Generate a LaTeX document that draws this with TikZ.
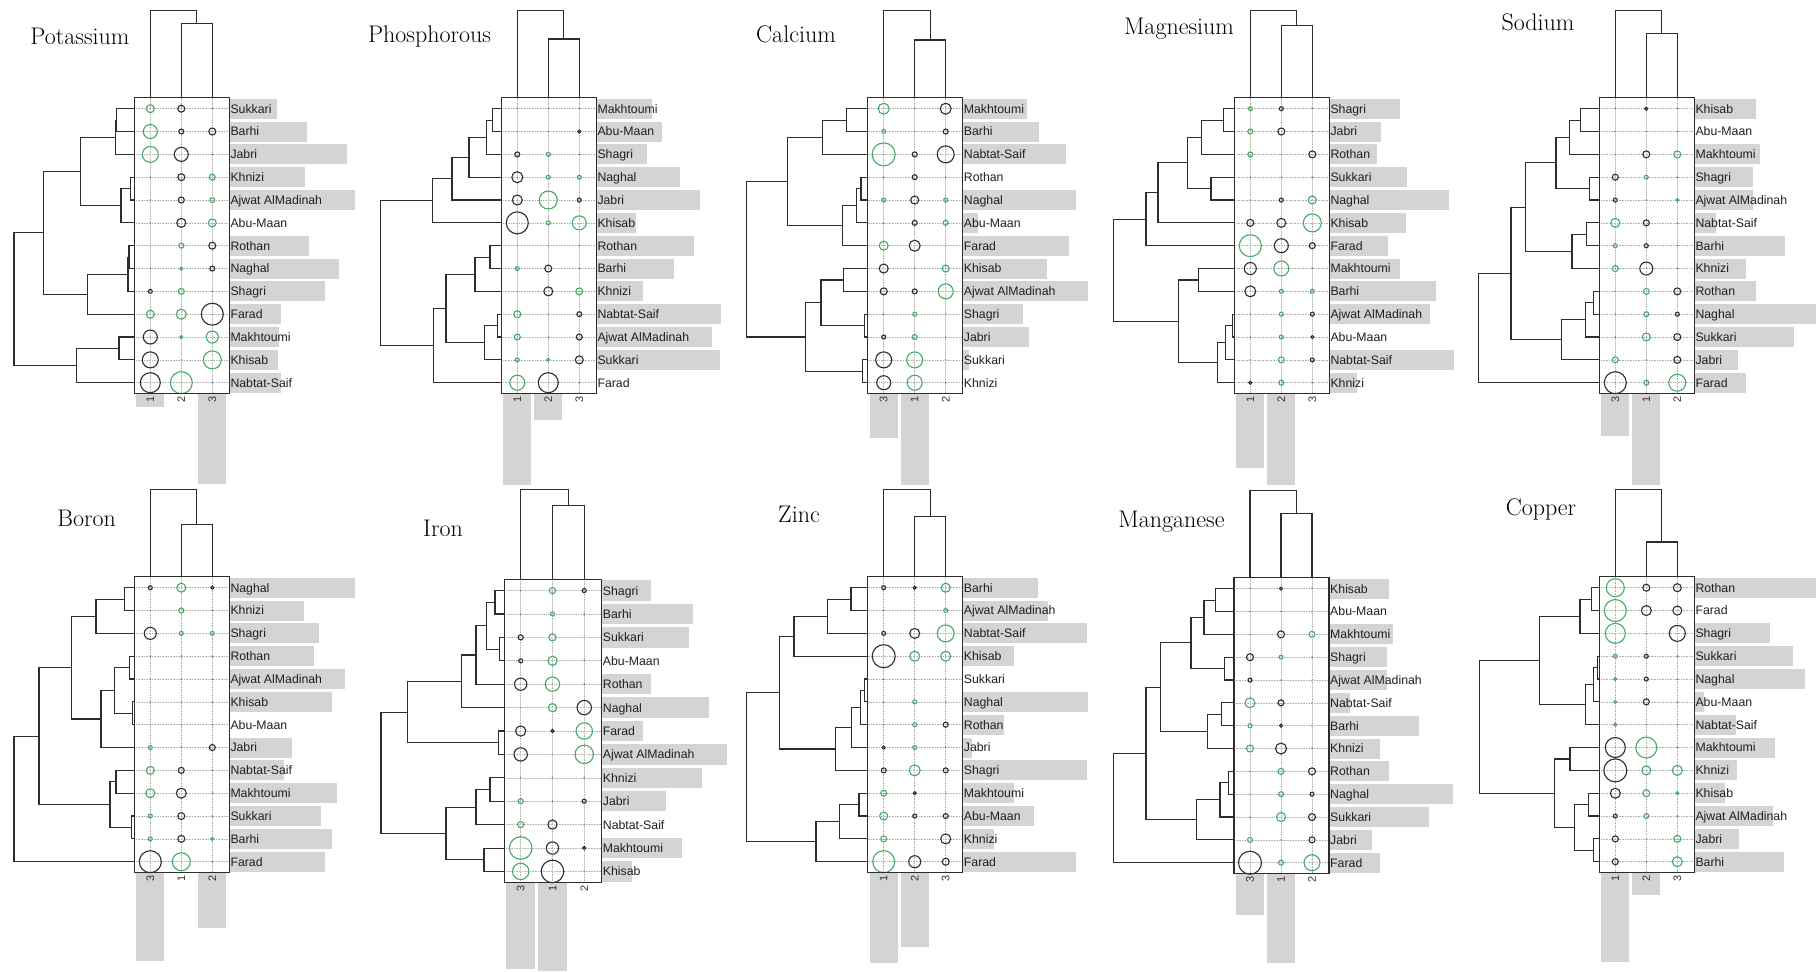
\documentclass[tikz,border=0pt]{standalone}
\usepackage{fontspec}
\newfontfamily\lab{Liberation Sans}
\usetikzlibrary{calc}
\definecolor{grn}{RGB}{70,170,100}
\definecolor{barg}{RGB}{212,212,212}
\definecolor{dk}{RGB}{45,45,45}
\tikzset{
 dend/.style={draw=dk, line width=1.1pt},
 frame/.style={draw=dk, line width=1.2pt},
 gridl/.style={draw=black!30, densely dotted, line width=0.6pt},
 gc/.style={draw=grn, line width=1.1pt},
 kc/.style={draw=dk, line width=1.1pt},
 dotc/.style={fill=black!55},
 rowbar/.style={fill=barg},
 rowlab/.style={font=\lab\fontsize{12.3}{14}\selectfont, text=black!88, inner sep=0.5pt, anchor=base west},
 collab/.style={font=\lab\fontsize{11}{13}\selectfont, text=black!80, rotate=90, anchor=east, inner sep=1pt},
 ttl/.style={font=\fontsize{24}{28}\selectfont, anchor=base, inner sep=0pt},
}
\newcommand{\PCell}[3]{%
  \ifdim #3pt<0pt \draw[kc] (#1,#2) circle[radius={-(#3)}];%
  \else\ifdim #3pt=0pt \fill[dotc] (#1,#2) circle[radius=0.8];%
  \else \draw[gc] (#1,#2) circle[radius=#3];\fi\fi}
\newcommand{\PRow}[7]{%
  \pgfmathsetmacro\ry{11+(#2-1)*22.833}%
  \ifdim #4pt>0pt \fill[rowbar] (95,\ry-10) rectangle (95+#4,\ry+10);\fi
  \draw[gridl] (0,\ry) -- (95,\ry);
  \PCell{16}{\ry}{#5}\PCell{47}{\ry}{#6}\PCell{78}{\ry}{#7}%
  \node[rowlab] (#1n#2) at (95.5,\ry+4.4) {#3};
  \coordinate (#1l#2) at (0,\ry);}
\newcommand{\HMerge}[4]{%
  \coordinate (dmx) at (#4,0);
  \draw[dend] (#2) -- (#2 -| dmx) -- (#3 -| dmx) -- (#3);
  \coordinate (#1) at ($(#2 -| dmx)!0.5!(#3 -| dmx)$);}
\newcommand{\VMerge}[4]{%
  \coordinate (dmy) at (0,#4);
  \draw[dend] (#2) -- (#2 |- dmy) -- (#3 |- dmy) -- (#3);
  \coordinate (#1) at ($(#2 |- dmy)!0.5!(#3 |- dmy)$);}
\newcommand{\PCols}[8]{%
  \ifdim #5pt>0pt \fill[rowbar] (2,296) rectangle (30,296+#5);\fi
  \ifdim #6pt>0pt \fill[rowbar] (33,296) rectangle (61,296+#6);\fi
  \ifdim #7pt>0pt \fill[rowbar] (64,296) rectangle (92,296+#7);\fi
  \foreach \cx in {16,47,78} {\draw[gridl] (\cx,0) -- (\cx,296);}
  \node[collab] (#1d1) at (16,297) {#2};
  \node[collab] (#1d2) at (47,297) {#3};
  \node[collab] (#1d3) at (78,297) {#4};
  \coordinate (#1t1) at (16,0); \coordinate (#1t2) at (47,0); \coordinate (#1t3) at (78,0);
  \VMerge{#1tA}{#1t2}{#1t3}{#8}
  \VMerge{#1tB}{#1t1}{#1tA}{-87.4}}
\begin{document}
\begin{tikzpicture}[x=1pt,y=-1pt]
\useasboundingbox[fill=white] (0,0) rectangle (1816,972);
% titles
\node[ttl] (T1) at (80,44.3) {Potassium};
\node[ttl] (T2) at (429.5,42.7) {Phosphorous};
\node[ttl] (T3) at (796,42.3) {Calcium};
\node[ttl] (T4) at (1179,34.3) {Magnesium};
\node[ttl] (T5) at (1538,30) {Sodium};
\node[ttl] (T6) at (86.7,526) {Boron};
\node[ttl] (T7) at (443,536.7) {Iron};
\node[ttl] (T8) at (799,522.7) {Zinc};
\node[ttl] (T9) at (1171.5,527.7) {Manganese};
\node[ttl] (T10) at (1541,515.3) {Copper};
% ---------- Potassium
\begin{scope}[shift={(134.3,97.7)}]
\PCols{P1}{1}{2}{3}{13.3}{0}{90.3}{-74.4}
\PRow{P1}{1}{Sukkari}{47.3}{4}{-3.5}{0}
\PRow{P1}{2}{Barhi}{77.3}{7}{-2.5}{-3.5}
\PRow{P1}{3}{Jabri}{118}{8}{-7}{0}
\PRow{P1}{4}{Khnizi}{75.7}{0}{-3.5}{3}
\PRow{P1}{5}{Ajwat AlMadinah}{125.3}{0}{-3}{2.5}
\PRow{P1}{6}{Abu-Maan}{0}{0}{-4.5}{4}
\PRow{P1}{7}{Rothan}{80}{0}{2.5}{-3.5}
\PRow{P1}{8}{Naghal}{109.3}{0}{1.5}{-2.5}
\PRow{P1}{9}{Shagri}{95.7}{-2}{3}{0}
\PRow{P1}{10}{Farad}{51.3}{4}{5}{-11}
\PRow{P1}{11}{Makhtoumi}{49.7}{-7}{1.5}{6}
\PRow{P1}{12}{Khisab}{49}{-8}{0}{9}
\PRow{P1}{13}{Nabtat-Saif}{51.3}{-10}{11}{0}
\draw[frame] (0,0) rectangle (95,296);
\HMerge{P1a}{P1l1}{P1l2}{-17.5}
\HMerge{P1b}{P1a}{P1l3}{-19}
\HMerge{P1c}{P1l4}{P1l5}{-3.7}
\HMerge{P1d}{P1c}{P1l6}{-13.3}
\HMerge{P1e}{P1b}{P1d}{-53.7}
\HMerge{P1f}{P1l7}{P1l8}{-5.3}
\HMerge{P1g}{P1f}{P1l9}{-6.3}
\HMerge{P1h}{P1g}{P1l10}{-47}
\HMerge{P1i}{P1e}{P1h}{-91}
\HMerge{P1j}{P1l11}{P1l12}{-15.3}
\HMerge{P1k}{P1j}{P1l13}{-57.7}
\HMerge{P1m}{P1i}{P1k}{-120.3}
\end{scope}
% ---------- Phosphorous
\begin{scope}[shift={(501.3,97.7)}]
\PCols{P2}{1}{2}{3}{91}{26}{0}{-58.7}
\PRow{P2}{1}{Makhtoumi}{55.7}{0}{0}{0}
\PRow{P2}{2}{Abu-Maan}{66}{0}{0}{-1.5}
\PRow{P2}{3}{Shagri}{50.3}{-2.5}{2}{0}
\PRow{P2}{4}{Naghal}{83.7}{-5.5}{2}{2}
\PRow{P2}{5}{Jabri}{103.7}{-5}{9}{-2}
\PRow{P2}{6}{Khisab}{39.7}{-11}{2}{7}
\PRow{P2}{7}{Rothan}{97.3}{0}{0}{0}
\PRow{P2}{8}{Barhi}{77.7}{2}{-3.5}{0}
\PRow{P2}{9}{Khnizi}{47}{0}{-4.5}{3.5}
\PRow{P2}{10}{Nabtat-Saif}{124.7}{3.5}{0}{-2.5}
\PRow{P2}{11}{Ajwat AlMadinah}{115.3}{3}{0}{-3}
\PRow{P2}{12}{Sukkari}{123.7}{2}{1.5}{-4}
\PRow{P2}{13}{Farad}{0}{7.5}{-10}{0}
\draw[frame] (0,0) rectangle (95,296);
\HMerge{P2a}{P2l1}{P2l2}{-8.7}
\HMerge{P2b}{P2a}{P2l3}{-14.7}
\HMerge{P2c}{P2b}{P2l4}{-32.3}
\HMerge{P2d}{P2c}{P2l5}{-49.3}
\HMerge{P2e}{P2d}{P2l6}{-69}
\HMerge{P2f}{P2l7}{P2l8}{-11.3}
\HMerge{P2g}{P2f}{P2l9}{-26.3}
\HMerge{P2h}{P2l10}{P2l11}{-3.7}
\HMerge{P2i}{P2h}{P2l12}{-17}
\HMerge{P2j}{P2g}{P2i}{-55.3}
\HMerge{P2k}{P2j}{P2l13}{-68}
\HMerge{P2m}{P2e}{P2k}{-120.7}
\end{scope}
% ---------- Calcium
\begin{scope}[shift={(867.7,97.7)}]
\PCols{P3}{3}{1}{2}{44.3}{91}{0}{-57.7}
\PRow{P3}{1}{Makhtoumi}{64.3}{5.5}{0}{-5.5}
\PRow{P3}{2}{Barhi}{76.7}{2}{0}{-2.5}
\PRow{P3}{3}{Nabtat-Saif}{103.3}{11.5}{-2.5}{-8.5}
\PRow{P3}{4}{Rothan}{0}{0}{-2.5}{0}
\PRow{P3}{5}{Naghal}{113.3}{2}{-4}{2}
\PRow{P3}{6}{Abu-Maan}{15}{0}{-2.5}{2.5}
\PRow{P3}{7}{Farad}{106.7}{4.5}{-5.5}{0}
\PRow{P3}{8}{Khisab}{84.3}{-4.5}{0}{3.5}
\PRow{P3}{9}{Ajwat AlMadinah}{125}{-3.5}{-2.5}{7.5}
\PRow{P3}{10}{Shagri}{60}{0}{2}{0}
\PRow{P3}{11}{Jabri}{66}{-2}{2.5}{0}
\PRow{P3}{12}{Sukkari}{6.7}{-8}{8}{0}
\PRow{P3}{13}{Khnizi}{0}{-7}{7.5}{0}
\draw[frame] (0,0) rectangle (95,296);
\HMerge{P3a}{P3l1}{P3l2}{-21}
\HMerge{P3b}{P3a}{P3l3}{-45.3}
\HMerge{P3c}{P3l4}{P3l5}{-6.7}
\HMerge{P3d}{P3c}{P3l6}{-11}
\HMerge{P3e}{P3d}{P3l7}{-25.3}
\HMerge{P3f}{P3b}{P3e}{-80}
\HMerge{P3g}{P3l8}{P3l9}{-24.3}
\HMerge{P3h}{P3l10}{P3l11}{-3.3}
\HMerge{P3i}{P3g}{P3h}{-46.7}
\HMerge{P3j}{P3l12}{P3l13}{-5.3}
\HMerge{P3k}{P3i}{P3j}{-62}
\HMerge{P3m}{P3f}{P3k}{-121}
\end{scope}
% ---------- Magnesium
\begin{scope}[shift={(1234.3,97.7)}]
\PCols{P4}{1}{2}{3}{74.3}{91}{0}{-72}
\PRow{P4}{1}{Shagri}{70.3}{2}{-2}{0}
\PRow{P4}{2}{Jabri}{51.3}{2.5}{-3.5}{0}
\PRow{P4}{3}{Rothan}{47.3}{2.5}{0}{-3.5}
\PRow{P4}{4}{Sukkari}{77.3}{0}{0}{0}
\PRow{P4}{5}{Naghal}{119.7}{0}{-2}{4}
\PRow{P4}{6}{Khisab}{76.3}{-3.5}{-4.5}{9}
\PRow{P4}{7}{Farad}{58.7}{11}{-7}{-3}
\PRow{P4}{8}{Makhtoumi}{70.3}{-6}{7.5}{0}
\PRow{P4}{9}{Barhi}{107}{-5.5}{2}{2}
\PRow{P4}{10}{Ajwat AlMadinah}{100.7}{0}{2}{-2}
\PRow{P4}{11}{Abu-Maan}{0}{0}{2}{-1.5}
\PRow{P4}{12}{Nabtat-Saif}{124.7}{0}{3}{-2}
\PRow{P4}{13}{Khnizi}{27.3}{-1.5}{2.5}{0}
\draw[frame] (0,0) rectangle (95,296);
\HMerge{P4a}{P4l1}{P4l2}{-11}
\HMerge{P4b}{P4a}{P4l3}{-32.7}
\HMerge{P4c}{P4l4}{P4l5}{-23.3}
\HMerge{P4d}{P4b}{P4c}{-46.7}
\HMerge{P4e}{P4d}{P4l6}{-76.3}
\HMerge{P4f}{P4e}{P4l7}{-88.3}
\HMerge{P4g}{P4l8}{P4l9}{-36}
\HMerge{P4h}{P4l10}{P4l11}{-1.7}
\HMerge{P4i}{P4h}{P4l12}{-8.7}
\HMerge{P4j}{P4i}{P4l13}{-17}
\HMerge{P4k}{P4g}{P4j}{-56}
\HMerge{P4m}{P4f}{P4k}{-121}
\end{scope}
% ---------- Sodium
\begin{scope}[shift={(1599.3,97.7)}]
\PCols{P5}{3}{1}{2}{42.7}{91}{0}{-64.4}
\PRow{P5}{1}{Khisab}{61.3}{0}{-1.5}{0}
\PRow{P5}{2}{Abu-Maan}{0}{0}{0}{0}
\PRow{P5}{3}{Makhtoumi}{65.7}{0}{-3.5}{3.5}
\PRow{P5}{4}{Shagri}{59}{-3}{2}{0}
\PRow{P5}{5}{Ajwat AlMadinah}{59}{-2}{0}{1.5}
\PRow{P5}{6}{Nabtat-Saif}{21.7}{4.5}{-3}{0}
\PRow{P5}{7}{Barhi}{90.7}{2}{-2}{0}
\PRow{P5}{8}{Khnizi}{51.7}{3}{-6.5}{0}
\PRow{P5}{9}{Rothan}{61.3}{0}{3}{-3.5}
\PRow{P5}{10}{Naghal}{122.3}{0}{2.5}{-2}
\PRow{P5}{11}{Sukkari}{100}{0}{4}{-3.5}
\PRow{P5}{12}{Jabri}{43.3}{3}{0}{-3.5}
\PRow{P5}{13}{Farad}{51.7}{-11}{2.5}{8.5}
\draw[frame] (0,0) rectangle (95,296);
\HMerge{P5a}{P5l1}{P5l2}{-19}
\HMerge{P5b}{P5a}{P5l3}{-30}
\HMerge{P5c}{P5l4}{P5l5}{-10}
\HMerge{P5d}{P5b}{P5c}{-43.3}
\HMerge{P5e}{P5l6}{P5l7}{-12.7}
\HMerge{P5f}{P5e}{P5l8}{-27.3}
\HMerge{P5g}{P5d}{P5f}{-74}
\HMerge{P5h}{P5l9}{P5l10}{-6}
\HMerge{P5i}{P5h}{P5l11}{-14}
\HMerge{P5j}{P5i}{P5l12}{-37.7}
\HMerge{P5k}{P5g}{P5j}{-88.3}
\HMerge{P5m}{P5k}{P5l13}{-120.7}
\end{scope}
% ---------- Boron
\begin{scope}[shift={(134.3,576.7)}]
\PCols{P6}{3}{1}{2}{88}{0}{55.3}{-52.4}
\PRow{P6}{1}{Naghal}{125.3}{-2}{4.5}{-1.5}
\PRow{P6}{2}{Khnizi}{74.7}{0}{2.5}{0}
\PRow{P6}{3}{Shagri}{89.7}{-6}{2}{2}
\PRow{P6}{4}{Rothan}{84.7}{0}{0}{0}
\PRow{P6}{5}{Ajwat AlMadinah}{115.7}{0}{0}{0}
\PRow{P6}{6}{Khisab}{103}{0}{0}{0}
\PRow{P6}{7}{Abu-Maan}{0}{0}{0}{0}
\PRow{P6}{8}{Jabri}{62.3}{2}{0}{-3}
\PRow{P6}{9}{Nabtat-Saif}{54.7}{4}{-3}{0}
\PRow{P6}{10}{Makhtoumi}{108}{4.5}{-5}{0}
\PRow{P6}{11}{Sukkari}{91.3}{2}{-3.5}{0}
\PRow{P6}{12}{Barhi}{103}{2}{-3.5}{1.5}
\PRow{P6}{13}{Farad}{95.7}{-11}{9}{0}
\draw[frame] (0,0) rectangle (95,296);
\HMerge{P6a}{P6l1}{P6l2}{-10}
\HMerge{P6b}{P6a}{P6l3}{-38.3}
\HMerge{P6c}{P6l4}{P6l5}{-5}
\HMerge{P6d}{P6l6}{P6l7}{-1.7}
\HMerge{P6e}{P6c}{P6d}{-20}
\HMerge{P6f}{P6e}{P6l8}{-33.3}
\HMerge{P6g}{P6b}{P6f}{-62.7}
\HMerge{P6h}{P6l9}{P6l10}{-18.3}
\HMerge{P6i}{P6l11}{P6l12}{-2.7}
\HMerge{P6j}{P6h}{P6i}{-24.3}
\HMerge{P6k}{P6g}{P6j}{-95.3}
\HMerge{P6m}{P6k}{P6l13}{-120.3}
\end{scope}
% ---------- Iron
\begin{scope}[shift={(504.3,579.3)}, scale=1.025]
\PCols{P7}{3}{1}{2}{84}{86}{0}{-72.2}
\PRow{P7}{1}{Shagri}{48.1}{0}{3}{-2}
\PRow{P7}{2}{Barhi}{88.8}{0}{2}{0}
\PRow{P7}{3}{Sukkari}{85.5}{-2.5}{3.5}{0}
\PRow{P7}{4}{Abu-Maan}{0}{-2}{4.5}{0}
\PRow{P7}{5}{Rothan}{48.1}{-6}{7}{0}
\PRow{P7}{6}{Naghal}{104.7}{0}{4}{-7}
\PRow{P7}{7}{Farad}{40.7}{-5}{-1.5}{8}
\PRow{P7}{8}{Ajwat AlMadinah}{122}{-6.5}{0}{9}
\PRow{P7}{9}{Khnizi}{97.6}{0}{0}{0}
\PRow{P7}{10}{Jabri}{62.8}{2.5}{0}{-2}
\PRow{P7}{11}{Nabtat-Saif}{0}{3}{-4.5}{0}
\PRow{P7}{12}{Makhtoumi}{78}{11}{-6}{-1.5}
\PRow{P7}{13}{Khisab}{29.3}{8}{-11}{0}
\draw[frame] (0,0) rectangle (95,296);
\HMerge{P7a}{P7l1}{P7l2}{-9.1}
\HMerge{P7b}{P7l3}{P7l4}{-4.9}
\HMerge{P7c}{P7a}{P7b}{-17.2}
\HMerge{P7d}{P7c}{P7l5}{-27.6}
\HMerge{P7e}{P7d}{P7l6}{-41.6}
\HMerge{P7f}{P7l7}{P7l8}{-5.9}
\HMerge{P7g}{P7e}{P7f}{-94.3}
\HMerge{P7h}{P7l9}{P7l10}{-14}
\HMerge{P7i}{P7h}{P7l11}{-27.6}
\HMerge{P7j}{P7l12}{P7l13}{-19.8}
\HMerge{P7k}{P7i}{P7j}{-56.9}
\HMerge{P7m}{P7g}{P7k}{-120.3}
\end{scope}
% ---------- Zinc
\begin{scope}[shift={(867.7,576.7)}]
\PCols{P8}{1}{2}{3}{90.7}{74}{0}{-60}
\PRow{P8}{1}{Barhi}{75}{-2}{-1.5}{4.5}
\PRow{P8}{2}{Ajwat AlMadinah}{85}{0}{0}{2}
\PRow{P8}{3}{Nabtat-Saif}{124}{-2}{-5}{8.5}
\PRow{P8}{4}{Khisab}{51.7}{-11.5}{5}{5}
\PRow{P8}{5}{Sukkari}{0}{0}{0}{0}
\PRow{P8}{6}{Naghal}{125}{0}{2}{0}
\PRow{P8}{7}{Rothan}{41.7}{0}{2}{-2.5}
\PRow{P8}{8}{Jabri}{9.3}{-1.5}{2}{0}
\PRow{P8}{9}{Shagri}{124}{-2.5}{5.5}{-2.5}
\PRow{P8}{10}{Makhtoumi}{51.7}{3}{-1.5}{0}
\PRow{P8}{11}{Abu-Maan}{71.7}{4}{-2}{-2.5}
\PRow{P8}{12}{Khnizi}{31}{3}{0}{-5}
\PRow{P8}{13}{Farad}{113.3}{11}{-6}{-3.5}
\draw[frame] (0,0) rectangle (95,296);
\HMerge{P8a}{P8l1}{P8l2}{-16.7}
\HMerge{P8b}{P8a}{P8l3}{-40}
\HMerge{P8c}{P8b}{P8l4}{-73.7}
\HMerge{P8d}{P8l5}{P8l6}{-3.3}
\HMerge{P8e}{P8d}{P8l7}{-7}
\HMerge{P8f}{P8e}{P8l8}{-16}
\HMerge{P8g}{P8f}{P8l9}{-32}
\HMerge{P8h}{P8c}{P8g}{-88.3}
\HMerge{P8i}{P8l10}{P8l11}{-8.7}
\HMerge{P8j}{P8i}{P8l12}{-28.3}
\HMerge{P8k}{P8j}{P8l13}{-51.7}
\HMerge{P8m}{P8h}{P8k}{-121}
\end{scope}
% ---------- Manganese
\begin{scope}[shift={(1234,577.7)}]
\PCols{P9}{3}{1}{2}{41.7}{89.4}{0}{-64.4}
\PRow{P9}{1}{Khisab}{60}{0}{-1.5}{0}
\PRow{P9}{2}{Abu-Maan}{0}{0}{0}{0}
\PRow{P9}{3}{Makhtoumi}{64}{0}{-3.5}{3}
\PRow{P9}{4}{Shagri}{58}{-3.5}{2}{0}
\PRow{P9}{5}{Ajwat AlMadinah}{58}{-2}{0}{0}
\PRow{P9}{6}{Nabtat-Saif}{20.7}{5}{-3}{0}
\PRow{P9}{7}{Barhi}{90}{2}{-1.5}{0}
\PRow{P9}{8}{Khnizi}{50.7}{3.5}{-5.5}{0}
\PRow{P9}{9}{Rothan}{60}{0}{3}{-3.5}
\PRow{P9}{10}{Naghal}{124}{0}{2.5}{-2}
\PRow{P9}{11}{Sukkari}{99.7}{0}{4.5}{-3.5}
\PRow{P9}{12}{Jabri}{43}{2.5}{0}{-3}
\PRow{P9}{13}{Farad}{50.7}{-11.5}{2.5}{8}
\draw[frame] (0,0) rectangle (95,296);
\HMerge{P9a}{P9l1}{P9l2}{-18.3}
\HMerge{P9b}{P9a}{P9l3}{-30}
\HMerge{P9c}{P9l4}{P9l5}{-9.7}
\HMerge{P9d}{P9b}{P9c}{-43}
\HMerge{P9e}{P9l6}{P9l7}{-12.3}
\HMerge{P9f}{P9e}{P9l8}{-26.7}
\HMerge{P9g}{P9d}{P9f}{-73.3}
\HMerge{P9h}{P9l9}{P9l10}{-5.7}
\HMerge{P9i}{P9h}{P9l11}{-14}
\HMerge{P9j}{P9i}{P9l12}{-37.3}
\HMerge{P9k}{P9g}{P9j}{-88}
\HMerge{P9m}{P9k}{P9l13}{-120.7}
\end{scope}
% ---------- Copper
\begin{scope}[shift={(1599.3,576.7)}]
\PCols{P10}{1}{2}{3}{89.7}{22}{0}{-34.7}
\PRow{P10}{1}{Rothan}{122}{9}{-3.5}{-4}
\PRow{P10}{2}{Farad}{0}{11}{-5}{-4.5}
\PRow{P10}{3}{Shagri}{75.3}{10}{0}{-8}
\PRow{P10}{4}{Sukkari}{98.7}{2}{-2}{0}
\PRow{P10}{5}{Naghal}{111}{1.5}{-2}{0}
\PRow{P10}{6}{Abu-Maan}{9.3}{1.5}{-3}{0}
\PRow{P10}{7}{Nabtat-Saif}{42}{1.5}{0}{0}
\PRow{P10}{8}{Makhtoumi}{81}{-10}{10.5}{0}
\PRow{P10}{9}{Khnizi}{42.7}{-11.5}{4.5}{5}
\PRow{P10}{10}{Khisab}{30.3}{-5}{3.5}{1.5}
\PRow{P10}{11}{Ajwat AlMadinah}{78.7}{-2}{2.5}{0}
\PRow{P10}{12}{Jabri}{45}{-3}{0}{3.5}
\PRow{P10}{13}{Barhi}{90}{-3}{0}{5}
\draw[frame] (0,0) rectangle (95,296);
\HMerge{P10a}{P10l1}{P10l2}{-7.7}
\HMerge{P10b}{P10a}{P10l3}{-19.3}
\HMerge{P10c}{P10l4}{P10l5}{-1.7}
\HMerge{P10d}{P10c}{P10l6}{-6}
\HMerge{P10e}{P10d}{P10l7}{-13.7}
\HMerge{P10f}{P10b}{P10e}{-60}
\HMerge{P10g}{P10l8}{P10l9}{-29.3}
\HMerge{P10h}{P10l10}{P10l11}{-11}
\HMerge{P10i}{P10l12}{P10l13}{-6}
\HMerge{P10j}{P10h}{P10i}{-25}
\HMerge{P10k}{P10g}{P10j}{-45}
\HMerge{P10m}{P10f}{P10k}{-120}
\end{scope}
\end{tikzpicture}
\end{document}
